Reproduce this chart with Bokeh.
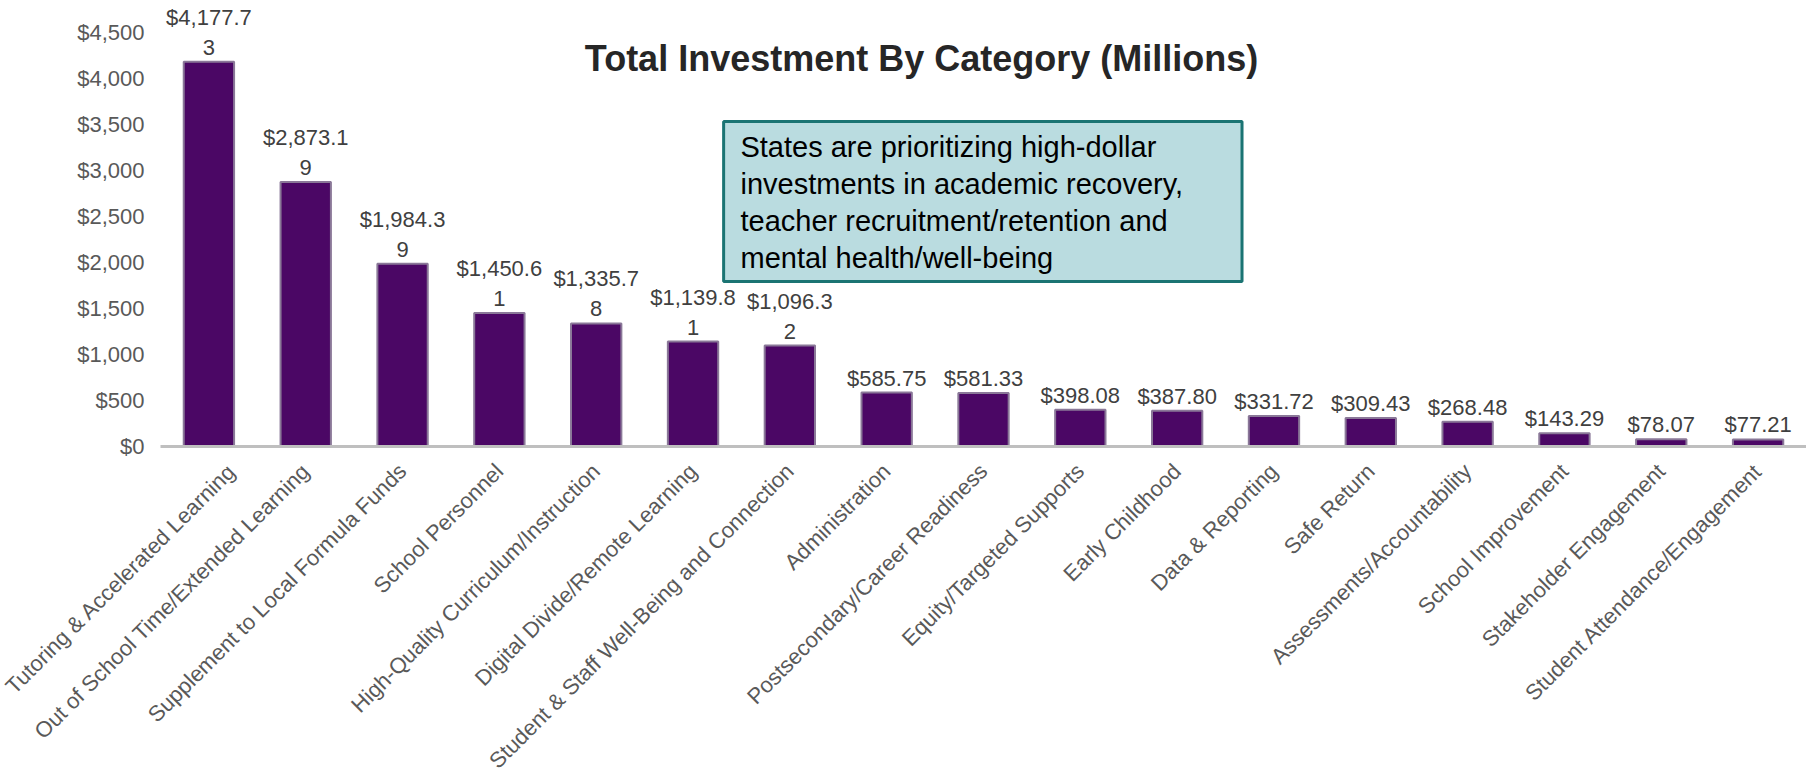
import math
from bokeh.plotting import figure
from bokeh.models import (ColumnDataSource, Range1d, FixedTicker, NumeralTickFormatter,
                          Label, BoxAnnotation)
from bokeh.core.properties import value
from bokeh.embed import file_html
from bokeh.resources import INLINE

categories = [
    "Tutoring & Accelerated Learning",
    "Out of School Time/Extended Learning",
    "Supplement to Local Formula Funds",
    "School Personnel",
    "High-Quality Curriculum/Instruction",
    "Digital Divide/Remote Learning",
    "Student & Staff Well-Being and Connection",
    "Administration",
    "Postsecondary/Career Readiness",
    "Equity/Targeted Supports",
    "Early Childhood",
    "Data & Reporting",
    "Safe Return",
    "Assessments/Accountability",
    "School Improvement",
    "Stakeholder Engagement",
    "Student Attendance/Engagement",
]
investment = [4177.73, 2873.19, 1984.39, 1450.61, 1335.78, 1139.81, 1096.32,
              585.75, 581.33, 398.08, 387.80, 331.72, 309.43, 268.48,
              143.29, 78.07, 77.21]
y_ticks = [0, 500, 1000, 1500, 2000, 2500, 3000, 3500, 4000, 4500]

title_text = "Total Investment By Category (Millions)"
note_text = ("States are prioritizing high-dollar\n"
             "investments in academic recovery,\n"
             "teacher recruitment/retention and\n"
             "mental health/well-being")


def fmt(v):
    s = "${:,.2f}".format(v)
    if len(s) > 8:
        s = s[:8] + "\n" + s[8:]
    return s


labels = [fmt(v) for v in investment]
src = ColumnDataSource(dict(cat=categories, val=investment, lab=labels))

FONT = "Liberation Sans"

p = figure(x_range=categories, y_range=Range1d(0, 4843),
           frame_width=1646, frame_height=446,
           min_border_left=160, min_border_right=0, min_border_top=0, min_border_bottom=0,
           output_backend="svg", toolbar_location=None, tools="")
p.outline_line_color = None
p.background_fill_color = "white"
p.xgrid.grid_line_color = None
p.ygrid.grid_line_color = None

p.vbar(x="cat", top="val", width=0.52, source=src,
       fill_color="#4B0765", line_color="#8A7898", line_width=2)

p.text(x="cat", y="val", text="lab", source=src,
       text_align="center", text_baseline="bottom", y_offset=-2,
       text_font_size="22px", text_color="#404040", text_line_height=1.2,
       text_font=value(FONT))

# y axis
p.yaxis.ticker = FixedTicker(ticks=y_ticks)
p.yaxis.formatter = NumeralTickFormatter(format="$0,0")
p.yaxis.axis_line_color = None
p.yaxis.major_tick_line_color = None
p.yaxis.minor_tick_line_color = None
p.yaxis.major_label_text_color = "#595959"
p.yaxis.major_label_text_font_size = "22px"
p.yaxis.major_label_text_font = FONT
p.yaxis.major_label_standoff = 10

# x axis
p.xaxis.axis_line_color = "#BFBFBF"
p.xaxis.axis_line_width = 3
p.xaxis.major_tick_line_color = None
p.xaxis.minor_tick_line_color = None
p.xaxis.major_label_orientation = math.pi / 4
p.xaxis.major_label_text_color = "#595959"
p.xaxis.major_label_text_font_size = "22px"
p.xaxis.major_label_text_font = FONT
p.xaxis.major_label_standoff = 15

# title (drawn inside plot area like the original)
p.add_layout(Label(x=7.86, y=4215, text=title_text, text_align="center",
                   text_baseline="alphabetic", text_font_size="36px",
                   text_font_style="bold", text_color="#262626", text_font=FONT))

# annotation box
p.add_layout(BoxAnnotation(left=5.816, right=11.17, bottom=1792, top=3530,
                           fill_color="#BADCE0", fill_alpha=1.0,
                           line_color="#1B7473", line_width=3, line_alpha=1.0))
p.add_layout(Label(x=5.99, y=3424, text=note_text, text_align="left",
                   text_baseline="top", text_font_size="29px", text_line_height=1.15,
                   text_color="#000000", text_font=FONT))

open("out.html", "w").write(file_html(p, INLINE))
